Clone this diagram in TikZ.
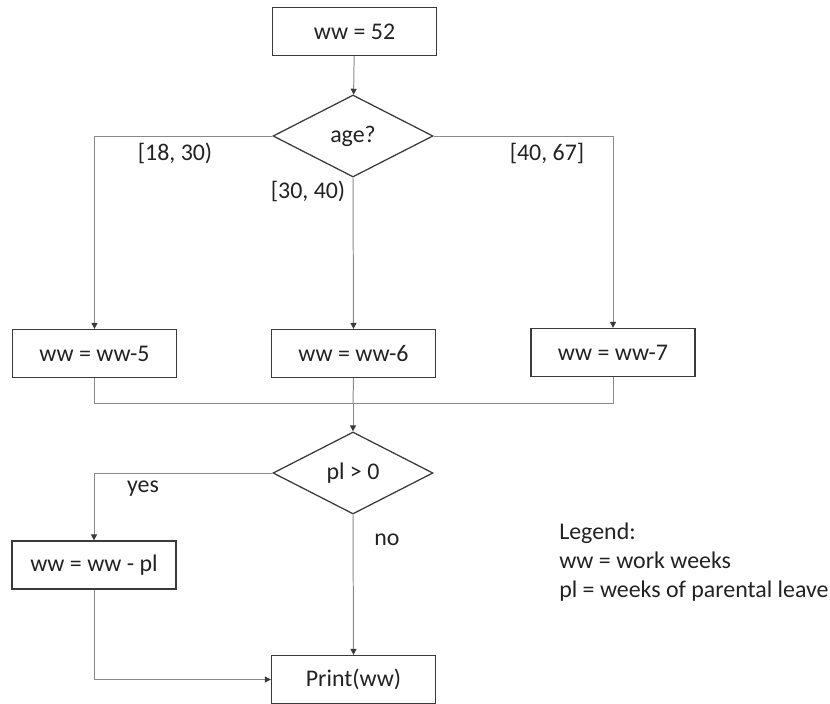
\documentclass[tikz,border=0pt]{standalone}
\usepackage{fontspec}
\setmainfont{Carlito}
\usepackage{tikz}
\usetikzlibrary{shapes.geometric,arrows.meta}
\definecolor{frame}{HTML}{3A3A3A}
\definecolor{wire}{HTML}{8A8A8A}
\definecolor{ink}{HTML}{222222}
\tikzset{
  stepbox/.style={draw=frame, line width=0.9pt, rectangle, minimum width=4.1cm, minimum height=1.2cm, inner sep=0pt, text=ink},
  test/.style={draw=frame, line width=0.9pt, diamond, minimum width=4cm, minimum height=2.05cm, inner sep=0pt, text=ink},
  flow/.style={draw=wire, line width=0.7pt},
  arr/.style={flow, -{Triangle[length=4.2pt,width=4.2pt,color=frame]}},
  lab/.style={text=ink},
}

\begin{document}
\begin{tikzpicture}[x=0.025cm, y=-0.025cm, font=\fontsize{17}{20.6}\selectfont]
  \useasboundingbox (0,0) rectangle (830,704);

  % start and first decision
  \node[stepbox] (init) at (354.5,31.5) {ww = 52};
  \node[test] (age) at (353,136) {age?};

  % the three age brackets
  \node[stepbox] (minus5) at (94.5,353.5) {ww = ww-5};
  \node[stepbox] (minus6) at (353.5,353.5) {ww = ww-6};
  \node[stepbox] (minus7) at (613,352.5) {ww = ww-7};

  % second decision
  \node[test] (leave) at (353,473) {pl > 0};
  \node[stepbox] (minuspl) at (94,565) {ww = ww - pl};
  \node[stepbox] (out) at (353.5,679.5) {Print(ww)};

  \coordinate (join) at (353,403);

  \draw[arr] (init) -- (age);
  \draw[arr] (age.west) -| (minus5.north);
  \draw[arr] (age.south) -- (minus6.north);
  \draw[arr] (age.east) -| (minus7.north);
  \node[lab] (r1) at (175,153) {[18, 30)};
  \node[lab] (r2) at (308,191) {[30, 40)};
  \node[lab] (r3) at (547,153) {[40, 67]};

  % merge
  \draw[flow] (minus5.south) |- (join);
  \draw[flow] (minus7.south) |- (join);
  \draw[flow] (minus6.south) -- (join);
  \draw[arr] (join) -- (leave.north);

  \draw[arr] (leave.west) -| (minuspl.north);
  \draw[arr] (leave.south) -- (out.north);
  \draw[arr] (minuspl.south) |- (out.west);
  \node[lab] (yes) at (143,489) {yes};
  \node[lab] (no) at (387,540) {no};

  % legend
  \node[lab, anchor=north west, align=left, inner sep=0pt] (legend) at (559,523)
    {Legend:\\ ww = work weeks\\ pl = weeks of parental leave};
\end{tikzpicture}
\end{document}
